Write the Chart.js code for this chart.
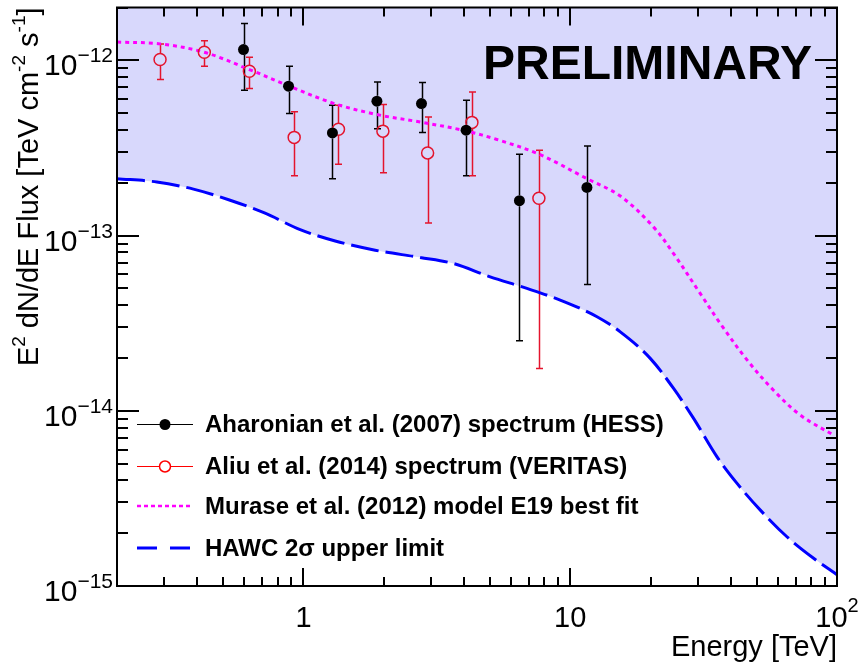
<!DOCTYPE html>
<html>
<head>
<meta charset="utf-8">
<script src="https://cdn.jsdelivr.net/npm/chart.js@4.4.0/dist/chart.umd.min.js"></script>
<style>
  html, body { margin: 0; padding: 0; background: #fff; }
  #wrap { width: 859px; height: 666px; }
</style>
</head>
<body>
<div id="wrap"><canvas id="c" width="859" height="666"></canvas></div>
<script>
// ── data ──────────────────────────────────────────────────────────────

// HESS, Aharonian et al. (2007)
const hessE  = [0.596, 0.879, 1.284, 1.885, 2.77, 4.07, 6.45, 11.55];
const hessF  = [1.15e-12, 7.11e-13, 3.85e-13, 5.84e-13, 5.66e-13, 3.99e-13, 1.58e-13, 1.88e-13];
const hessHi = [1.62e-12, 9.24e-13, 5.54e-13, 7.52e-13, 7.46e-13, 5.91e-13, 2.91e-13, 3.24e-13];
const hessLo = [6.74e-13, 4.97e-13, 2.11e-13, 4.07e-13, 3.87e-13, 2.19e-13, 2.51e-14, 5.26e-14];

// VERITAS, Aliu et al. (2014)
const verE  = [0.290, 0.425, 0.627, 0.923, 1.353, 1.985, 2.92, 4.28, 7.63];
const verF  = [1.01e-12, 1.11e-12, 8.65e-13, 3.63e-13, 4.04e-13, 3.94e-13, 2.96e-13, 4.42e-13, 1.63e-13];
const verHi = [1.24e-12, 1.29e-12, 1.04e-12, 5.08e-13, 5.54e-13, 5.60e-13, 4.75e-13, 6.60e-13, 3.07e-13];
const verLo = [7.76e-13, 9.24e-13, 6.90e-13, 2.19e-13, 2.55e-13, 2.28e-13, 1.18e-13, 2.19e-13, 1.74e-14];

// Murase et al. (2012) model E19
const muraseE = [0.2, 0.29, 0.425, 0.627, 0.879, 1.296, 1.885, 2.77, 4.07, 5.31, 7.64, 11.55,
                 15.4, 20.5, 24.4, 30.7, 36.5, 46.0, 57.8, 72.8, 97];
const muraseF = [1.27e-12, 1.24e-12, 1.11e-12, 8.85e-13, 7.15e-13, 5.68e-13, 4.90e-13, 4.43e-13,
                 3.95e-13, 3.53e-13, 2.91e-13, 2.11e-13, 1.68e-13, 1.12e-13, 7.88e-14, 4.67e-14,
                 3.15e-14, 1.95e-14, 1.31e-14, 9.45e-15, 7.26e-15];

// HAWC 2 sigma upper limit
const hawcE = [0.2, 0.282, 0.387, 0.531, 0.718, 0.972, 1.315, 1.857, 2.74, 3.65, 5.01, 6.88, 9.17,
               12.6, 15.4, 19.95, 24.4, 29.0, 35.5, 42.2, 51.6, 64.9, 81.7, 100];
const hawcF = [2.11e-13, 2.02e-13, 1.84e-13, 1.59e-13, 1.34e-13, 1.08e-13, 9.31e-14, 8.24e-14,
               7.49e-14, 6.92e-14, 5.81e-14, 4.99e-14, 4.28e-14, 3.44e-14, 2.82e-14, 1.99e-14,
               1.34e-14, 9.04e-15, 5.46e-15, 3.85e-15, 2.71e-15, 1.91e-15, 1.44e-15, 1.16e-15];

// axes
const xRange = [0.2, 100];
const yRange = [1e-15, 2e-12];
const xMajor = [1, 10, 100];
const xMajorLabels = [['1', ''], ['10', ''], ['10', '2']];
const yMajor = [1e-15, 1e-14, 1e-13, 1e-12];
const yMajorLabels = [['10', '\u221215'], ['10', '\u221214'], ['10', '\u221213'], ['10', '\u221212']];

const legendLabels = [
  'Aharonian et al. (2007) spectrum (HESS)',
  'Aliu et al. (2014) spectrum (VERITAS)',
  'Murase et al. (2012) model E19 best fit',
  'HAWC 2\u03c3 upper limit',
];

// ── style ───────────────────────────────────────────────────────────

const FONT   = '"Liberation Sans", Arial, Helvetica, sans-serif';
const RED    = 'rgb(228,20,45)';
const BLUE   = '#0000ff';
const PINK   = '#ff00ff';
const FILL   = 'rgb(216,216,252)';
const pts = (xs, ys) => xs.map((x, i) => ({ x, y: ys[i] }));

// ── ROOT-style frame, inward ticks, labels, legend ──────────────────

function errorBars(ctx, chart, xs, lo, hi, ys, color, r) {
  const sx = chart.scales.x, sy = chart.scales.y;
  ctx.save();
  ctx.strokeStyle = color;
  ctx.lineWidth = 1.5;
  xs.forEach((x, i) => {
    const px = Math.round(sx.getPixelForValue(x)) + 0.5;
    const pc = sy.getPixelForValue(ys[i]);
    const pt = sy.getPixelForValue(hi[i]);
    const pb = sy.getPixelForValue(lo[i]);
    ctx.beginPath();
    ctx.moveTo(px, pt); ctx.lineTo(px, pc - r);
    ctx.moveTo(px, pc + r); ctx.lineTo(px, pb);
    ctx.moveTo(px - 3.5, pt); ctx.lineTo(px + 3.5, pt);
    ctx.moveTo(px - 3.5, pb); ctx.lineTo(px + 3.5, pb);
    ctx.stroke();
  });
  ctx.restore();
}

const rootPlugin = {
  id: 'rootStyle',
  beforeDatasetsDraw(chart) {
    const ctx = chart.ctx;
    ctx.save();
    const a = chart.chartArea;
    ctx.beginPath();
    ctx.rect(a.left, a.top, a.right - a.left, a.bottom - a.top);
    ctx.clip();
    errorBars(ctx, chart, hessE, hessLo, hessHi, hessF, '#000', 5.5);
    errorBars(ctx, chart, verE, verLo, verHi, verF, RED, 6);
    ctx.restore();
  },
  afterDraw(chart) {
    const ctx = chart.ctx;
    const a = chart.chartArea;
    const sx = chart.scales.x, sy = chart.scales.y;
    ctx.save();
    ctx.strokeStyle = '#000';
    ctx.fillStyle = '#000';
    ctx.lineWidth = 2;

    // frame
    ctx.strokeRect(a.left, a.top, a.right - a.left, a.bottom - a.top);

    // y ticks (left and right)
    for (let d = -15; d <= -12; d++) {
      for (let m = 1; m <= 9; m++) {
        const v = m * Math.pow(10, d);
        if (v > yRange[1] * 1.0001) break;
        const py = Math.round(sy.getPixelForValue(v));
        const L = m === 1 ? 22 : 11;
        ctx.beginPath();
        ctx.moveTo(a.left, py); ctx.lineTo(a.left + L, py);
        ctx.moveTo(a.right, py); ctx.lineTo(a.right - L, py);
        ctx.stroke();
      }
    }
    // x ticks (bottom and top)
    for (let d = -1; d <= 2; d++) {
      for (let m = 1; m <= 9; m++) {
        const v = m * Math.pow(10, d);
        if (v < xRange[0] * 0.9999 || v > xRange[1] * 1.0001) continue;
        const px = Math.round(sx.getPixelForValue(v));
        const L = m === 1 ? 18 : 9;
        ctx.beginPath();
        ctx.moveTo(px, a.bottom); ctx.lineTo(px, a.bottom - L);
        ctx.moveTo(px, a.top); ctx.lineTo(px, a.top + L);
        ctx.stroke();
      }
    }

    // y labels
    ctx.textBaseline = 'alphabetic';
    ctx.textAlign = 'left';
    yMajor.forEach((v, i) => {
      const py = sy.getPixelForValue(v);
      const [b, e] = yMajorLabels[i];
      ctx.font = '30px ' + FONT;
      const bw = ctx.measureText(b).width;
      ctx.font = '21px ' + FONT;
      const ew = ctx.measureText(e).width;
      const x0 = a.left - 4 - ew - bw;
      ctx.font = '30px ' + FONT;
      ctx.fillText(b, x0, py + 15);
      ctx.font = '21px ' + FONT;
      ctx.fillText(e, x0 + bw, py + 2);
    });

    // x labels
    xMajor.forEach((v, i) => {
      const px = sx.getPixelForValue(v);
      const [b, e] = xMajorLabels[i];
      ctx.font = '29px ' + FONT;
      const bw = ctx.measureText(b).width;
      ctx.font = '20px ' + FONT;
      const ew = e ? ctx.measureText(e).width : 0;
      const x0 = px - (bw + ew) / 2;
      ctx.font = '29px ' + FONT;
      ctx.fillText(b, x0, 627);
      if (e) { ctx.font = '20px ' + FONT; ctx.fillText(e, x0 + bw, 612); }
    });

    // axis titles
    ctx.font = '29px ' + FONT;
    ctx.textAlign = 'right';
    ctx.fillText('Energy [TeV]', a.right, 656);

    ctx.save();
    ctx.translate(38, a.top);
    ctx.rotate(-Math.PI / 2);
    // rotated: laid out so that it ends at the top of the axis
    const parts = [['E', 0], ['2', 1], [' dN/dE Flux [TeV cm', 0], ['-2', 1], [' s', 0], ['-1', 1], [']', 0]];
    let total = 0;
    parts.forEach(([t, s]) => { ctx.font = (s ? '19px ' : '29px ') + FONT; total += ctx.measureText(t).width; });
    let x = -total;
    ctx.textAlign = 'left';
    parts.forEach(([t, s]) => {
      ctx.font = (s ? '19px ' : '29px ') + FONT;
      ctx.fillText(t, x, s ? -13 : 0);
      x += ctx.measureText(t).width;
    });
    ctx.restore();

    // PRELIMINARY
    ctx.font = 'bold 48px ' + FONT;
    ctx.textAlign = 'left';
    ctx.fillText('PRELIMINARY', 483, 79);

    // legend
    const rows = [424, 466, 506, 548];
    const lx0 = 137, lx1 = 193, lm = 165;
    ctx.font = 'bold 24px ' + FONT;
    ctx.textBaseline = 'middle';
    legendLabels.forEach((t, i) => ctx.fillText(t, 205, rows[i] + 1));

    ctx.lineWidth = 1;
    ctx.strokeStyle = '#000';
    ctx.beginPath(); ctx.moveTo(lx0, rows[0] + 0.5); ctx.lineTo(lx1, rows[0] + 0.5); ctx.stroke();
    ctx.beginPath(); ctx.arc(lm, rows[0] + 0.5, 5.5, 0, Math.PI * 2); ctx.fill();

    ctx.strokeStyle = '#ff0000';
    ctx.beginPath();
    ctx.moveTo(lx0, rows[1] + 0.5); ctx.lineTo(lm - 6, rows[1] + 0.5);
    ctx.moveTo(lm + 6, rows[1] + 0.5); ctx.lineTo(lx1, rows[1] + 0.5);
    ctx.stroke();
    ctx.lineWidth = 1.5;
    ctx.beginPath(); ctx.arc(lm, rows[1] + 0.5, 5.5, 0, Math.PI * 2); ctx.stroke();

    ctx.strokeStyle = PINK;
    ctx.lineWidth = 2.5;
    ctx.setLineDash([4, 3]);
    ctx.beginPath(); ctx.moveTo(lx0, rows[2]); ctx.lineTo(lx1, rows[2]); ctx.stroke();

    ctx.strokeStyle = BLUE;
    ctx.lineWidth = 3;
    ctx.setLineDash([20, 13]);
    ctx.beginPath(); ctx.moveTo(lx0, rows[3]); ctx.lineTo(lx1, rows[3]); ctx.stroke();
    ctx.setLineDash([]);

    ctx.restore();
  },
};

// ── chart ───────────────────────────────────────────────────────────

new Chart(document.getElementById('c'), {
  type: 'line',
  data: {
    datasets: [
      {
        label: legendLabels[0],
        data: pts(hessE, hessF),
        showLine: false,
        pointRadius: 5.5,
        pointBackgroundColor: '#000',
        pointBorderColor: '#000',
        pointBorderWidth: 0,
      },
      {
        label: legendLabels[1],
        data: pts(verE, verF),
        showLine: false,
        pointRadius: 6,
        pointBackgroundColor: 'rgba(0,0,0,0)',
        pointBorderColor: RED,
        pointBorderWidth: 1.5,
      },
      {
        label: legendLabels[2],
        data: pts(muraseE, muraseF),
        borderColor: PINK,
        borderWidth: 3,
        borderDash: [4, 4],
        pointRadius: 0,
        tension: 0.35,
        fill: false,
      },
      {
        label: legendLabels[3],
        data: pts(hawcE, hawcF),
        borderColor: BLUE,
        borderWidth: 3,
        borderDash: [28, 7],
        pointRadius: 0,
        cubicInterpolationMode: 'monotone',
        fill: 'end',
        backgroundColor: FILL,
      },
    ],
  },
  options: {
    responsive: false,
    animation: false,
    events: [],
    layout: { padding: { top: 7, right: 22, left: 0, bottom: 0 } },
    plugins: {
      legend: { display: false },
      tooltip: { enabled: false },
      filler: { drawTime: 'beforeDatasetsDraw' },
    },
    scales: {
      x: {
        type: 'logarithmic', min: xRange[0], max: xRange[1],
        ticks: { display: false }, grid: { display: false }, border: { display: false },
        afterFit: s => { s.height = 80; },
      },
      y: {
        type: 'logarithmic', min: yRange[0], max: yRange[1],
        ticks: { display: false }, grid: { display: false }, border: { display: false },
        afterFit: s => { s.width = 117; },
      },
    },
  },
  plugins: [rootPlugin],
});
</script>
</body>
</html>
